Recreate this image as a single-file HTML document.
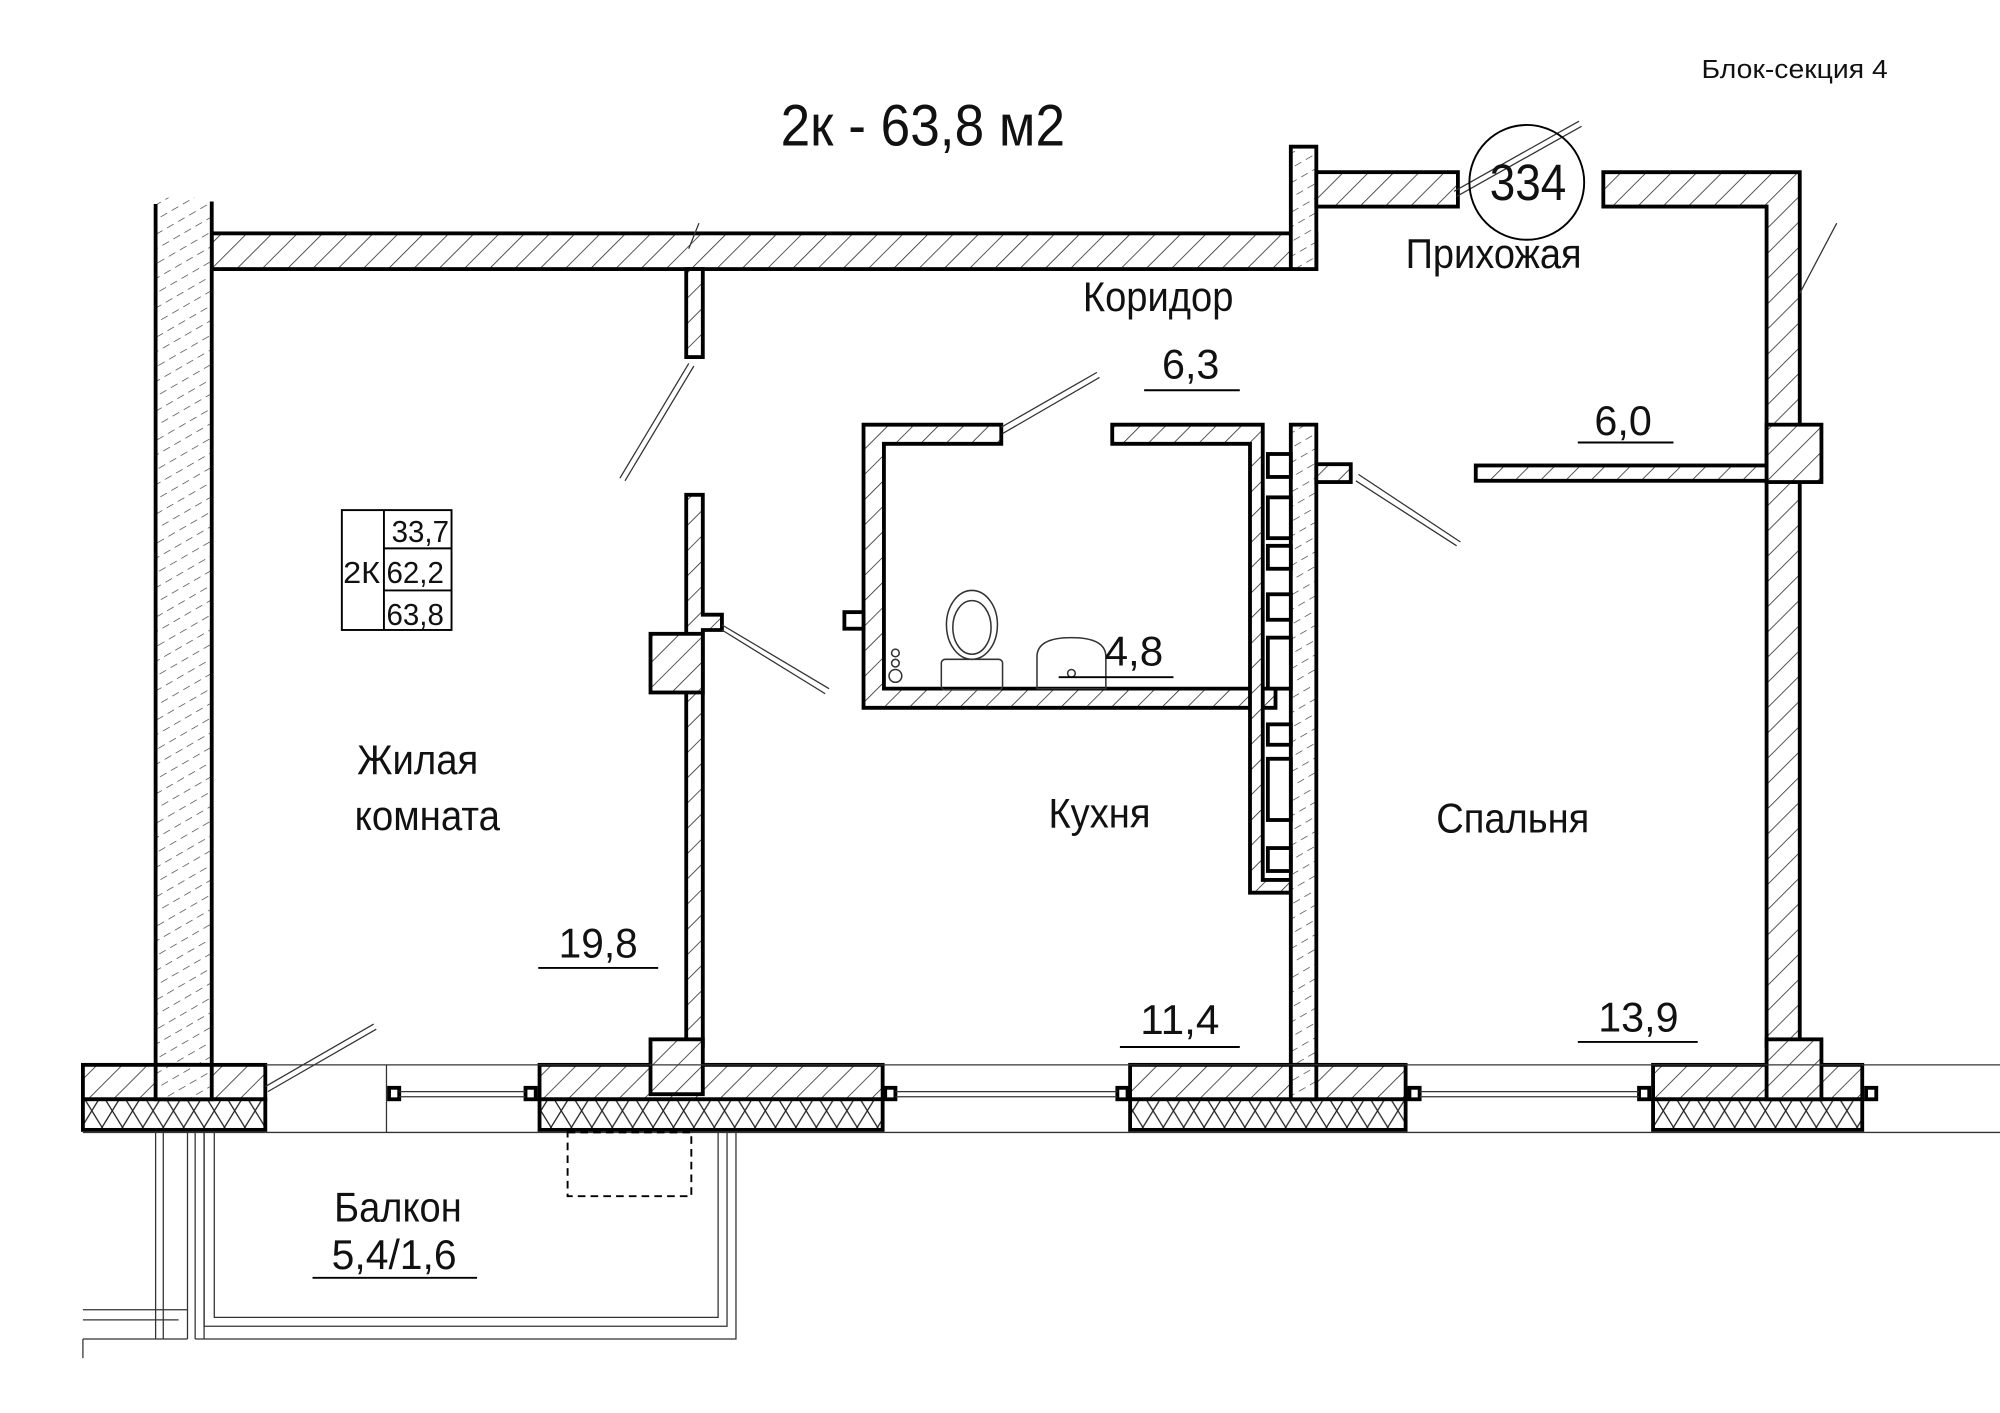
<!DOCTYPE html>
<html><head><meta charset="utf-8"><style>
html,body{margin:0;padding:0;background:#fff;}
svg{display:block}
text{font-family:"Liberation Sans",sans-serif;fill:#111;}
</style></head><body>
<svg width="2000" height="1413" viewBox="0 0 1568 1108" preserveAspectRatio="none" xmlns="http://www.w3.org/2000/svg">
<defs>
<pattern id="h" patternUnits="userSpaceOnUse" width="14" height="14" patternTransform="rotate(45)">
<rect width="14" height="14" fill="#fff"/><line x1="0" y1="0" x2="0" y2="14" stroke="#222" stroke-width="1.2"/></pattern>
<pattern id="hd" patternUnits="userSpaceOnUse" width="10" height="10" patternTransform="rotate(60)">
<rect width="10" height="10" fill="#fff"/><line x1="0" y1="0" x2="0" y2="6" stroke="#333" stroke-width="1"/></pattern>
<pattern id="x" patternUnits="userSpaceOnUse" width="16" height="26">
<rect width="16" height="26" fill="#fff"/><path d="M0 0L16 26M16 0L0 26" stroke="#222" stroke-width="1"/></pattern>
</defs>
<g stroke="#000" stroke-width="3">
<rect x="166" y="183" width="866" height="28" fill="url(#h)"/>
<rect x="122" y="155" width="44" height="707" fill="url(#hd)" stroke="none"/>
<line x1="122" y1="160" x2="122" y2="862"/><line x1="166" y1="158" x2="166" y2="862"/>
<rect x="1012" y="115" width="20" height="96" fill="url(#hd)"/>
<rect x="1032" y="135" width="111" height="27" fill="url(#h)"/>
<path d="M1257 135H1411V820H1385V162H1257Z" fill="url(#h)"/>
<rect x="1385" y="333" width="43" height="45" fill="url(#h)"/>
<rect x="1157" y="365" width="228" height="12" fill="url(#h)"/>
<rect x="538" y="211" width="13" height="69" fill="url(#h)"/>
<path d="M538 388H551V482H566V494H551V820H538Z" fill="url(#h)"/>
<rect x="510" y="497" width="41" height="46" fill="url(#h)"/>
<path d="M677 333H785V348H693V540H1000V555H677Z" fill="url(#h)"/>
<rect x="662" y="480" width="15" height="13" fill="#fff"/>
<path d="M872 333H990V690H1012V700H980V348H872Z" fill="url(#h)"/>
<rect x="1012" y="333" width="20" height="529" fill="url(#hd)"/>
<rect x="1032" y="364" width="27" height="14" fill="url(#h)"/>
<rect x="65" y="835" width="143" height="27" fill="url(#h)"/>
<rect x="423" y="835" width="269" height="27" fill="url(#h)"/>
<rect x="886" y="835" width="216" height="27" fill="url(#h)"/>
<rect x="1296" y="835" width="164" height="27" fill="url(#h)"/>
<rect x="65" y="862" width="143" height="24" fill="url(#x)"/>
<rect x="423" y="862" width="269" height="24" fill="url(#x)"/>
<rect x="886" y="862" width="216" height="24" fill="url(#x)"/>
<rect x="1296" y="862" width="164" height="24" fill="url(#x)"/>
<rect x="122" y="835" width="44" height="27" fill="url(#hd)"/>
<rect x="510" y="815" width="41" height="43" fill="url(#h)"/>
<rect x="1385" y="815" width="43" height="47" fill="url(#h)"/>
<rect x="1012" y="835" width="20" height="27" fill="url(#hd)"/>
</g>
<g stroke="#000" stroke-width="3" fill="#fff">
<rect x="305" y="853" width="8" height="9"/><rect x="412" y="853" width="8" height="9"/>
<rect x="694" y="853" width="8" height="9"/><rect x="876" y="853" width="8" height="9"/>
<rect x="1105" y="853" width="8" height="9"/><rect x="1285" y="853" width="8" height="9"/>
<rect x="1463" y="853" width="8" height="9"/>
<rect x="994" y="356" width="18" height="18"/><rect x="994" y="390" width="18" height="32"/>
<rect x="994" y="428" width="18" height="18"/><rect x="994" y="466" width="18" height="20"/>
<rect x="994" y="500" width="18" height="40"/><rect x="994" y="568" width="18" height="16"/>
<rect x="994" y="595" width="18" height="48"/><rect x="994" y="665" width="18" height="18"/>
</g>
<g stroke="#333" stroke-width="1" fill="none">
<line x1="313" y1="856" x2="412" y2="856"/><line x1="313" y1="860" x2="412" y2="860"/>
<line x1="702" y1="856" x2="876" y2="856"/><line x1="702" y1="860" x2="876" y2="860"/>
<line x1="1113" y1="856" x2="1285" y2="856"/><line x1="1113" y1="860" x2="1285" y2="860"/>
<line x1="208" y1="835" x2="1568" y2="835"/><line x1="208" y1="888" x2="1568" y2="888"/>
<line x1="65" y1="888" x2="208" y2="888"/>
<line x1="303" y1="835" x2="303" y2="888"/>
<path d="M122 888V1050M128 888V1050M147 888V1050M153 888V1050M160 888V1050"/>
<path d="M160 888V1040H570V888M168 888V1033H563V888M577 888V1050H153M65 1050H147"/>
<path d="M65 1035H140M65 1027H147"/>
<line x1="65" y1="1050" x2="65" y2="1065"/>
<path d="M486 375L540 285M490 377L544 287"/>
<path d="M785 335L860 292M786 340L862 296"/>
<path d="M1065 372L1145 425M1063 377L1142 428"/>
<path d="M566 490L650 540M566 494L647 544"/>
<path d="M208 852L293 803M210 856L295 807"/>
<path d="M1140 150L1238 95M1142 154L1240 99"/>
<path d="M1411 230L1440 175"/>
<path d="M540 195L548 175"/>
</g>
<rect x="445" y="888" width="97" height="50" fill="none" stroke="#000" stroke-dasharray="6,4" stroke-width="1.5"/>
<g stroke="#333" stroke-width="1.2" fill="none">
<ellipse cx="762" cy="490" rx="20" ry="27"/><ellipse cx="762" cy="492" rx="15" ry="21"/>
<rect x="738" y="517" width="48" height="24" rx="3"/>
<path d="M813 540V515Q813 500 840 500Q867 500 867 515V540Z"/>
<circle cx="840" cy="528" r="3"/>
<circle cx="702" cy="512" r="3"/><circle cx="702" cy="520" r="3"/><circle cx="702" cy="530" r="5"/>
</g>
<g stroke="#000" stroke-width="1.5" fill="none">
<rect x="268" y="400" width="86" height="94"/>
<line x1="301" y1="400" x2="301" y2="494"/>
<line x1="301" y1="430" x2="354" y2="430"/><line x1="301" y1="463" x2="354" y2="463"/>
<circle cx="1197" cy="143" r="45"/>
<line x1="897" y1="306" x2="972" y2="306"/>
<line x1="1237" y1="347" x2="1312" y2="347"/>
<line x1="422" y1="759" x2="516" y2="759"/>
<line x1="878" y1="821" x2="972" y2="821"/>
<line x1="1237" y1="817" x2="1331" y2="817"/>
<line x1="245" y1="1002" x2="374" y2="1002"/>
<line x1="830" y1="531" x2="920" y2="531"/>
</g>
<g font-size="33" lengthAdjust="spacingAndGlyphs">
<text x="612" y="114" font-size="46" textLength="223" lengthAdjust="spacingAndGlyphs">2к - 63,8 м2</text>
<text x="1334" y="61" font-size="20" textLength="146" lengthAdjust="spacingAndGlyphs">Блок-секция 4</text>
<text x="1168" y="157" font-size="40" textLength="60" lengthAdjust="spacingAndGlyphs">334</text>
<text x="1102" y="210" textLength="138" lengthAdjust="spacingAndGlyphs">Прихожая</text>
<text x="849" y="244" textLength="118" lengthAdjust="spacingAndGlyphs">Коридор</text>
<text x="911" y="297" textLength="45" lengthAdjust="spacingAndGlyphs">6,3</text>
<text x="1250" y="341" textLength="45" lengthAdjust="spacingAndGlyphs">6,0</text>
<text x="866" y="522" textLength="46" lengthAdjust="spacingAndGlyphs">4,8</text>
<text x="280" y="607" textLength="95" lengthAdjust="spacingAndGlyphs">Жилая</text>
<text x="278" y="651" textLength="114" lengthAdjust="spacingAndGlyphs">комната</text>
<text x="822" y="649" textLength="80" lengthAdjust="spacingAndGlyphs">Кухня</text>
<text x="1126" y="653" textLength="120" lengthAdjust="spacingAndGlyphs">Спальня</text>
<text x="438" y="751" textLength="62" lengthAdjust="spacingAndGlyphs">19,8</text>
<text x="894" y="811" textLength="62" lengthAdjust="spacingAndGlyphs">11,4</text>
<text x="1253" y="809" textLength="63" lengthAdjust="spacingAndGlyphs">13,9</text>
<text x="262" y="958" textLength="100" lengthAdjust="spacingAndGlyphs">Балкон</text>
<text x="260" y="995" textLength="98" lengthAdjust="spacingAndGlyphs">5,4/1,6</text>
<text x="307" y="425" font-size="24" textLength="45" lengthAdjust="spacingAndGlyphs">33,7</text>
<text x="303" y="457" font-size="24" textLength="45" lengthAdjust="spacingAndGlyphs">62,2</text>
<text x="303" y="490" font-size="24" textLength="45" lengthAdjust="spacingAndGlyphs">63,8</text>
<text x="269" y="457" font-size="24" textLength="29" lengthAdjust="spacingAndGlyphs">2К</text>
</g>
</svg>
</body></html>
